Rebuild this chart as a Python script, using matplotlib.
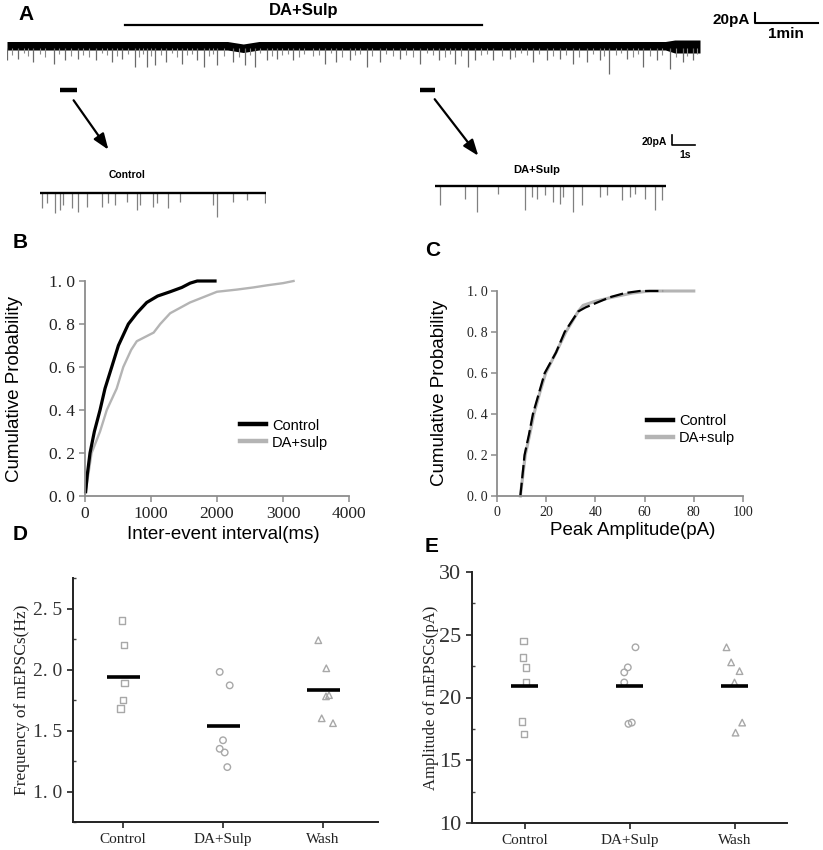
import numpy as np
import matplotlib
matplotlib.use("Agg")
from matplotlib import pyplot as plt
from matplotlib.patches import FancyArrowPatch
from matplotlib.ticker import MultipleLocator

# ---------------- panel A : recording ----------------
trace_len_min = 11.0
drug_on_min, drug_off_min = 1.87, 7.54
event_t_min = [0.00, 0.18, 0.42, 0.74, 0.92, 1.13, 1.42, 1.66, 1.82, 2.03, 2.22, 2.35, 2.53,
               2.77, 3.01, 3.12, 3.33, 3.59, 3.78, 3.94, 4.12, 4.28, 4.54, 5.05, 5.23, 5.44,
               5.71, 5.92, 6.24, 6.56, 6.85, 7.11, 7.32, 7.43, 7.72, 7.98, 8.35, 8.57, 8.78,
               8.99, 9.20, 9.41, 9.56, 9.84, 10.10, 10.31, 10.52, 10.73, 10.89]
event_amp_pA = [32, 29, 35, 39, 32, 29, 32, 35, 29, 45, 45, 42, 35,
                39, 32, 45, 42, 35, 42, 45, 32, 29, 32, 39, 35, 32,
                45, 35, 29, 39, 32, 39, 45, 32, 32, 29, 35, 32, 29,
                39, 35, 32, 60, 29, 45, 32, 49, 35, 32]
# the short events that make the fuzz under the baseline
small_t_min = [0.08, 0.27, 0.33, 0.52, 0.60, 0.83, 1.02, 1.20, 1.30, 1.50, 1.58, 1.74, 1.92,
               2.10, 2.16, 2.29, 2.44, 2.62, 2.70, 2.86, 2.93, 3.20, 3.27, 3.45, 3.68, 3.86,
               4.02, 4.20, 4.36, 4.46, 4.63, 4.72, 4.85, 4.96, 5.14, 5.32, 5.52, 5.60, 5.80,
               6.02, 6.12, 6.34, 6.45, 6.66, 6.76, 6.95, 7.03, 7.20, 7.52, 7.62, 7.85, 8.07,
               8.16, 8.26, 8.45, 8.66, 8.87, 9.08, 9.30, 9.48, 9.66, 9.75, 9.93, 10.02, 10.20,
               10.40, 10.62, 10.80, 10.95]
small_amp_pA = [22, 18, 24, 20, 26, 19, 23, 21, 25, 18, 22, 24, 20, 26, 19, 23, 21, 18, 25,
                22, 20, 24, 19, 23, 26, 21, 18, 24, 22, 20, 25, 19, 23, 21, 18, 26, 22, 20,
                24, 19, 23, 21, 25, 18, 22, 26, 20, 24, 21, 19, 23, 25, 18, 22, 20, 24, 21,
                26, 19, 23, 22, 18, 25, 20, 24, 21, 26, 23, 20]
band_t_min = [0.0, 3.5, 3.75, 4.0, 10.45, 10.6, 11.0]
band_top_pA = [5, 5, 0, 5, 5, 8, 8]
band_bot_pA = [-12, -12, -17, -12, -12, -18, -18]
ctrl_seg_min = (0.84, 1.11)
drug_seg_min = (6.56, 6.79)

ctrl_inset_len_s = 9.83
ctrl_inset_t_s = [0.07, 0.29, 0.65, 0.87, 1.01, 1.38, 1.67, 2.03, 2.68, 2.97, 3.26, 3.77,
                  4.20, 4.35, 4.93, 5.07, 5.58, 6.09, 7.54, 7.68, 8.41, 8.99, 9.78]
ctrl_inset_amp_pA = [30, 20, 40, 33, 23, 30, 37, 27, 27, 20, 23, 17,
                     33, 23, 27, 20, 30, 17, 23, 47, 17, 13, 20]
drug_inset_len_s = 10.04
drug_inset_t_s = [0.22, 1.30, 1.81, 2.75, 3.91, 4.20, 4.42, 4.78, 5.14, 5.43, 5.58, 6.01,
                  6.38, 7.17, 7.46, 8.12, 8.48, 8.70, 9.13, 9.57, 9.86]
drug_inset_amp_pA = [38, 25, 51, 15, 48, 21, 25, 18, 31, 35, 21, 51,
                     38, 21, 18, 28, 21, 15, 25, 48, 28]

# ---------------- panel B : inter-event interval CDF ----------------
ctrl_iei_ms = [10, 35, 76, 142, 228, 303, 405, 506, 657, 784, 935, 1100, 1290, 1467, 1593, 1700, 1970]
ctrl_iei_p = [0.02, 0.1, 0.2, 0.3, 0.4, 0.5, 0.6, 0.7, 0.8, 0.85, 0.9, 0.93, 0.95, 0.97, 0.99, 1.0, 1.0]
drug_iei_ms = [10, 50, 100, 228, 330, 480, 580, 700, 785, 1040, 1140, 1290, 1590, 2000, 2300, 2550, 2760, 3000, 3160]
drug_iei_p = [0.02, 0.1, 0.2, 0.3, 0.4, 0.5, 0.6, 0.68, 0.72, 0.76, 0.8, 0.85, 0.9, 0.95, 0.96, 0.97, 0.98, 0.99, 1.0]

# ---------------- panel C : peak amplitude CDF ----------------
ctrl_amp_pA = [9.5, 11.2, 13, 14.6, 17, 19.4, 24, 27.5, 33, 36, 40, 46, 52, 58, 67.5]
ctrl_amp_p = [0.0, 0.2, 0.3, 0.4, 0.5, 0.6, 0.7, 0.8, 0.9, 0.92, 0.94, 0.97, 0.99, 1.0, 1.0]
drug_amp_pA = [9.5, 11.5, 13.3, 15, 17.3, 19.8, 24, 28, 33, 35, 40, 47, 55, 62, 80]
drug_amp_p = [0.0, 0.2, 0.3, 0.4, 0.5, 0.6, 0.7, 0.8, 0.9, 0.93, 0.95, 0.97, 0.99, 1.0, 1.0]

# ---------------- panels D / E : per-cell values ----------------
groups = ["Control", "DA+Sulp", "Wash"]
freq_ctrl = [2.40, 2.20, 1.89, 1.75, 1.68]
freq_drug = [1.98, 1.87, 1.42, 1.35, 1.32, 1.20]
freq_wash = [2.24, 2.01, 1.79, 1.78, 1.60, 1.56]
freq_jit_ctrl = [-0.01, 0.01, 0.017, 0.0, -0.023]
freq_jit_drug = [-0.033, 0.067, 0.0, -0.033, 0.017, 0.043]
freq_jit_wash = [-0.047, 0.033, 0.06, 0.03, -0.013, 0.1]
freq_means = [1.94, 1.54, 1.83]

amp_ctrl = [24.5, 23.2, 22.4, 21.2, 18.1, 17.1]
amp_drug = [24.0, 22.4, 22.0, 21.2, 18.0, 17.9]
amp_wash = [24.0, 22.8, 22.1, 21.2, 18.0, 17.2]
amp_jit_ctrl = [-0.01, -0.016, 0.016, 0.016, -0.025, -0.003]
amp_jit_drug = [0.057, -0.016, -0.05, -0.05, 0.022, -0.01]
amp_jit_wash = [-0.076, -0.032, 0.048, 0.0, 0.073, 0.01]
amp_means = [20.9, 20.9, 20.9]

W, H = 823, 850
SANS = "Liberation Sans"
SERIF = "Liberation Serif"
GRAY = "#b4b4b4"
plt.rcParams["font.family"] = [SANS, "DejaVu Sans"]


def box(x0, y0, x1, y1):
    return [x0 / W, 1 - y1 / H, (x1 - x0) / W, (y1 - y0) / H]


def pt(x, y):
    return x / W, 1 - y / H


def bare(ax):
    ax.set_axis_off()
    ax.patch.set_alpha(0)


def spaced(v):
    return f"{v:.1f}".replace(".", ". ")


fig = plt.figure(figsize=(W / 100, H / 100), dpi=100)

# ---- A : whole recording ----
axA = fig.add_axes(box(7, 30, 700, 80))
bare(axA)
axA.set_xlim(0, trace_len_min)
axA.set_ylim(-72, 28)
axA.vlines(small_t_min, [-a for a in small_amp_pA], -8, color="#8a8a8a", lw=0.8)
axA.vlines(event_t_min, [-a for a in event_amp_pA], -8, color="#6a6a6a", lw=0.9)
axA.fill_between(band_t_min, band_bot_pA, band_top_pA, color="black", lw=0)
axA.plot([drug_on_min, drug_off_min], [38, 38], color="black", lw=1.6, clip_on=False)
axA.text((drug_on_min + drug_off_min) / 2, 66, "DA+Sulp", ha="center", va="center",
         fontsize=12, fontweight="bold")
for seg in (ctrl_seg_min, drug_seg_min):
    axA.plot(seg, [-92, -92], color="black", lw=3.2, clip_on=False, solid_capstyle="butt")
# scale bar 20 pA / 1 min
axA.plot([11.87, 11.87, 12.87], [62, 42, 42], color="black", lw=1.5, clip_on=False)
axA.text(11.79, 48, "20pA", ha="right", va="center", fontsize=11, fontweight="bold")
axA.text(12.37, 20, "1min", ha="center", va="center", fontsize=11, fontweight="bold")

fig.text(*pt(18, 15), "A", fontsize=15, fontweight="bold", va="center")

for start, end in [((72, 98), (110, 152)), ((433, 97), (480, 158))]:
    fig.add_artist(FancyArrowPatch(
        pt(*start), pt(*end), transform=fig.transFigure,
        arrowstyle="-|>,head_length=0.8,head_width=0.3",
        mutation_scale=12, color="black", lw=1.6))

# ---- A : insets ----
axI1 = fig.add_axes(box(40, 185, 266, 222))
bare(axI1)
axI1.set_xlim(0, ctrl_inset_len_s)
axI1.set_ylim(-58, 16)
axI1.vlines(ctrl_inset_t_s, [-a for a in ctrl_inset_amp_pA], 0, color="#808080", lw=0.9)
axI1.plot([0, ctrl_inset_len_s], [0, 0], color="black", lw=1.7)
fig.text(*pt(127, 175), "Control", ha="center", va="center", fontsize=7.5, fontweight="bold")

axI2 = fig.add_axes(box(435, 178, 666, 215))
bare(axI2)
axI2.set_xlim(0, drug_inset_len_s)
axI2.set_ylim(-58, 16)
axI2.vlines(drug_inset_t_s, [-a for a in drug_inset_amp_pA], 0, color="#808080", lw=0.9)
axI2.plot([0, drug_inset_len_s], [0, 0], color="black", lw=1.7)
axI2.plot([10.30, 10.30, 11.30], [102, 82, 82], color="black", lw=1.2, clip_on=False)
axI2.text(10.09, 88, "20pA", ha="right", va="center", fontsize=7.5, fontweight="bold")
axI2.text(10.87, 62, "1s", ha="center", va="center", fontsize=7.5, fontweight="bold")
fig.text(*pt(537, 170), "DA+Sulp", ha="center", va="center", fontsize=8, fontweight="bold")


# ---- B / C : cumulative plots ----
def cdf_axes(rect, xticks, xmax, tick_size, ylab_x):
    ax = fig.add_axes(rect)
    for s in ("top", "right"):
        ax.spines[s].set_visible(False)
    for s in ("left", "bottom"):
        ax.spines[s].set_color("#8c8c8c")
        ax.spines[s].set_linewidth(1.3)
    ax.set_xlim(0, xmax)
    ax.set_ylim(0, 1)
    yt = [0, 0.2, 0.4, 0.6, 0.8, 1.0]
    ax.set_yticks(yt, [spaced(v) for v in yt], fontfamily=SERIF, fontsize=tick_size)
    ax.set_xticks(xticks, [str(v) for v in xticks], fontfamily=SERIF, fontsize=tick_size)
    ax.tick_params(color="#8c8c8c", length=4, width=1.1, labelcolor="#222222", pad=3)
    ax.set_ylabel("Cumulative Probability", fontsize=13.5)
    ax.yaxis.set_label_coords(ylab_x, 0.5)
    return ax


def cdf_legend(ax, anchor):
    h, l = ax.get_legend_handles_labels()
    leg = ax.legend(h[::-1], l[::-1], loc="upper left", bbox_to_anchor=anchor, frameon=False,
                    fontsize=10.5, handlelength=1.8, handletextpad=0.4, labelspacing=0.2,
                    borderpad=0, borderaxespad=0)
    for ln in leg.get_lines():
        ln.set_linewidth(3.2)
        ln.set_linestyle("-")


axB = cdf_axes(box(85, 281, 349, 496), [0, 1000, 2000, 3000, 4000], 4000, 12.5, -0.235)
axB.plot(drug_iei_ms, drug_iei_p, color=GRAY, lw=1.7, label="DA+sulp", clip_on=False)
axB.plot(ctrl_iei_ms, ctrl_iei_p, color="black", lw=2.3, label="Control", clip_on=False)
axB.set_xlabel("Inter-event interval(ms)", fontsize=13.5)
axB.xaxis.set_label_coords(0.523, -0.14)
cdf_legend(axB, (0.587, 0.36))
fig.text(*pt(13, 243), "B", fontsize=15, fontweight="bold", va="center")

axC = cdf_axes(box(497, 291, 743, 496), [0, 20, 40, 60, 80, 100], 100, 10, -0.2)
axC.plot(drug_amp_pA, drug_amp_p, color=GRAY, lw=2.2, label="DA+sulp", clip_on=False)
axC.plot(ctrl_amp_pA, ctrl_amp_p, color="black", lw=1.6, dashes=(6, 2), label="Control",
         clip_on=False)
axC.set_xlabel("Peak Amplitude(pA)", fontsize=13.5)
axC.xaxis.set_label_coords(0.553, -0.125)
cdf_legend(axC, (0.61, 0.40))
fig.text(*pt(425, 250), "C", fontsize=15, fontweight="bold", va="center")


# ---- D / E : scatter with means ----
def dot_axes(rect, ylim, yticks, ylabels, minor, ylab, ylab_size, tick_size, ylab_x, xmax):
    ax = fig.add_axes(rect)
    for s in ("top", "right"):
        ax.spines[s].set_visible(False)
    for s in ("left", "bottom"):
        ax.spines[s].set_color("#222222")
        ax.spines[s].set_linewidth(1.4)
    ax.set_xlim(0.5, xmax)
    ax.set_ylim(*ylim)
    ax.set_yticks(yticks, ylabels, fontfamily=SERIF, fontsize=tick_size, color="#333333")
    ax.yaxis.set_minor_locator(MultipleLocator(minor))
    ax.set_xticks([1, 2, 3], groups, fontfamily=SERIF, fontsize=11, color="#222222")
    ax.tick_params(which="major", length=4, width=1.2, color="#222222", pad=4)
    ax.tick_params(axis="y", which="minor", direction="in", length=2, width=1.0, color="#444444")
    ax.set_ylabel(ylab, fontfamily=SERIF, fontsize=ylab_size, color="#222222")
    ax.yaxis.set_label_coords(ylab_x, 0.5)
    return ax


markers = ["s", "o", "^"]

axD = dot_axes(box(73, 578, 378, 822), (0.75, 2.75), [1.0, 1.5, 2.0, 2.5],
               [spaced(v) for v in [1.0, 1.5, 2.0, 2.5]], 0.25,
               "Frequency of mEPSCs(Hz)", 12.5, 14, -0.14, 3.55)
for i, (vals, jit) in enumerate([(freq_ctrl, freq_jit_ctrl), (freq_drug, freq_jit_drug),
                                 (freq_wash, freq_jit_wash)]):
    axD.scatter([i + 1 + j for j in jit], vals, marker=markers[i], s=22, facecolors="none",
                edgecolors="#a8a8a8", linewidths=1.0, zorder=2)
    axD.hlines(freq_means[i], i + 1 - 0.165, i + 1 + 0.165, color="black", lw=2.6, zorder=3)
fig.text(*pt(13, 535), "D", fontsize=15, fontweight="bold", va="center")

axE = dot_axes(box(472, 572, 787, 823), (10, 30), [10, 15, 20, 25, 30],
               ["10", "15", "20", "25", "30"], 2.5,
               "Amplitude of mEPSCs(pA)", 12, 16, -0.105, 3.5)
for i, (vals, jit) in enumerate([(amp_ctrl, amp_jit_ctrl), (amp_drug, amp_jit_drug),
                                 (amp_wash, amp_jit_wash)]):
    axE.scatter([i + 1 + j for j in jit], vals, marker=markers[i], s=22, facecolors="none",
                edgecolors="#a8a8a8", linewidths=1.0, zorder=2)
    axE.hlines(amp_means[i], i + 1 - 0.13, i + 1 + 0.13, color="black", lw=2.6, zorder=3)
fig.text(*pt(425, 546), "E", fontsize=15, fontweight="bold", va="center")

fig.savefig("out.png", dpi=100)
